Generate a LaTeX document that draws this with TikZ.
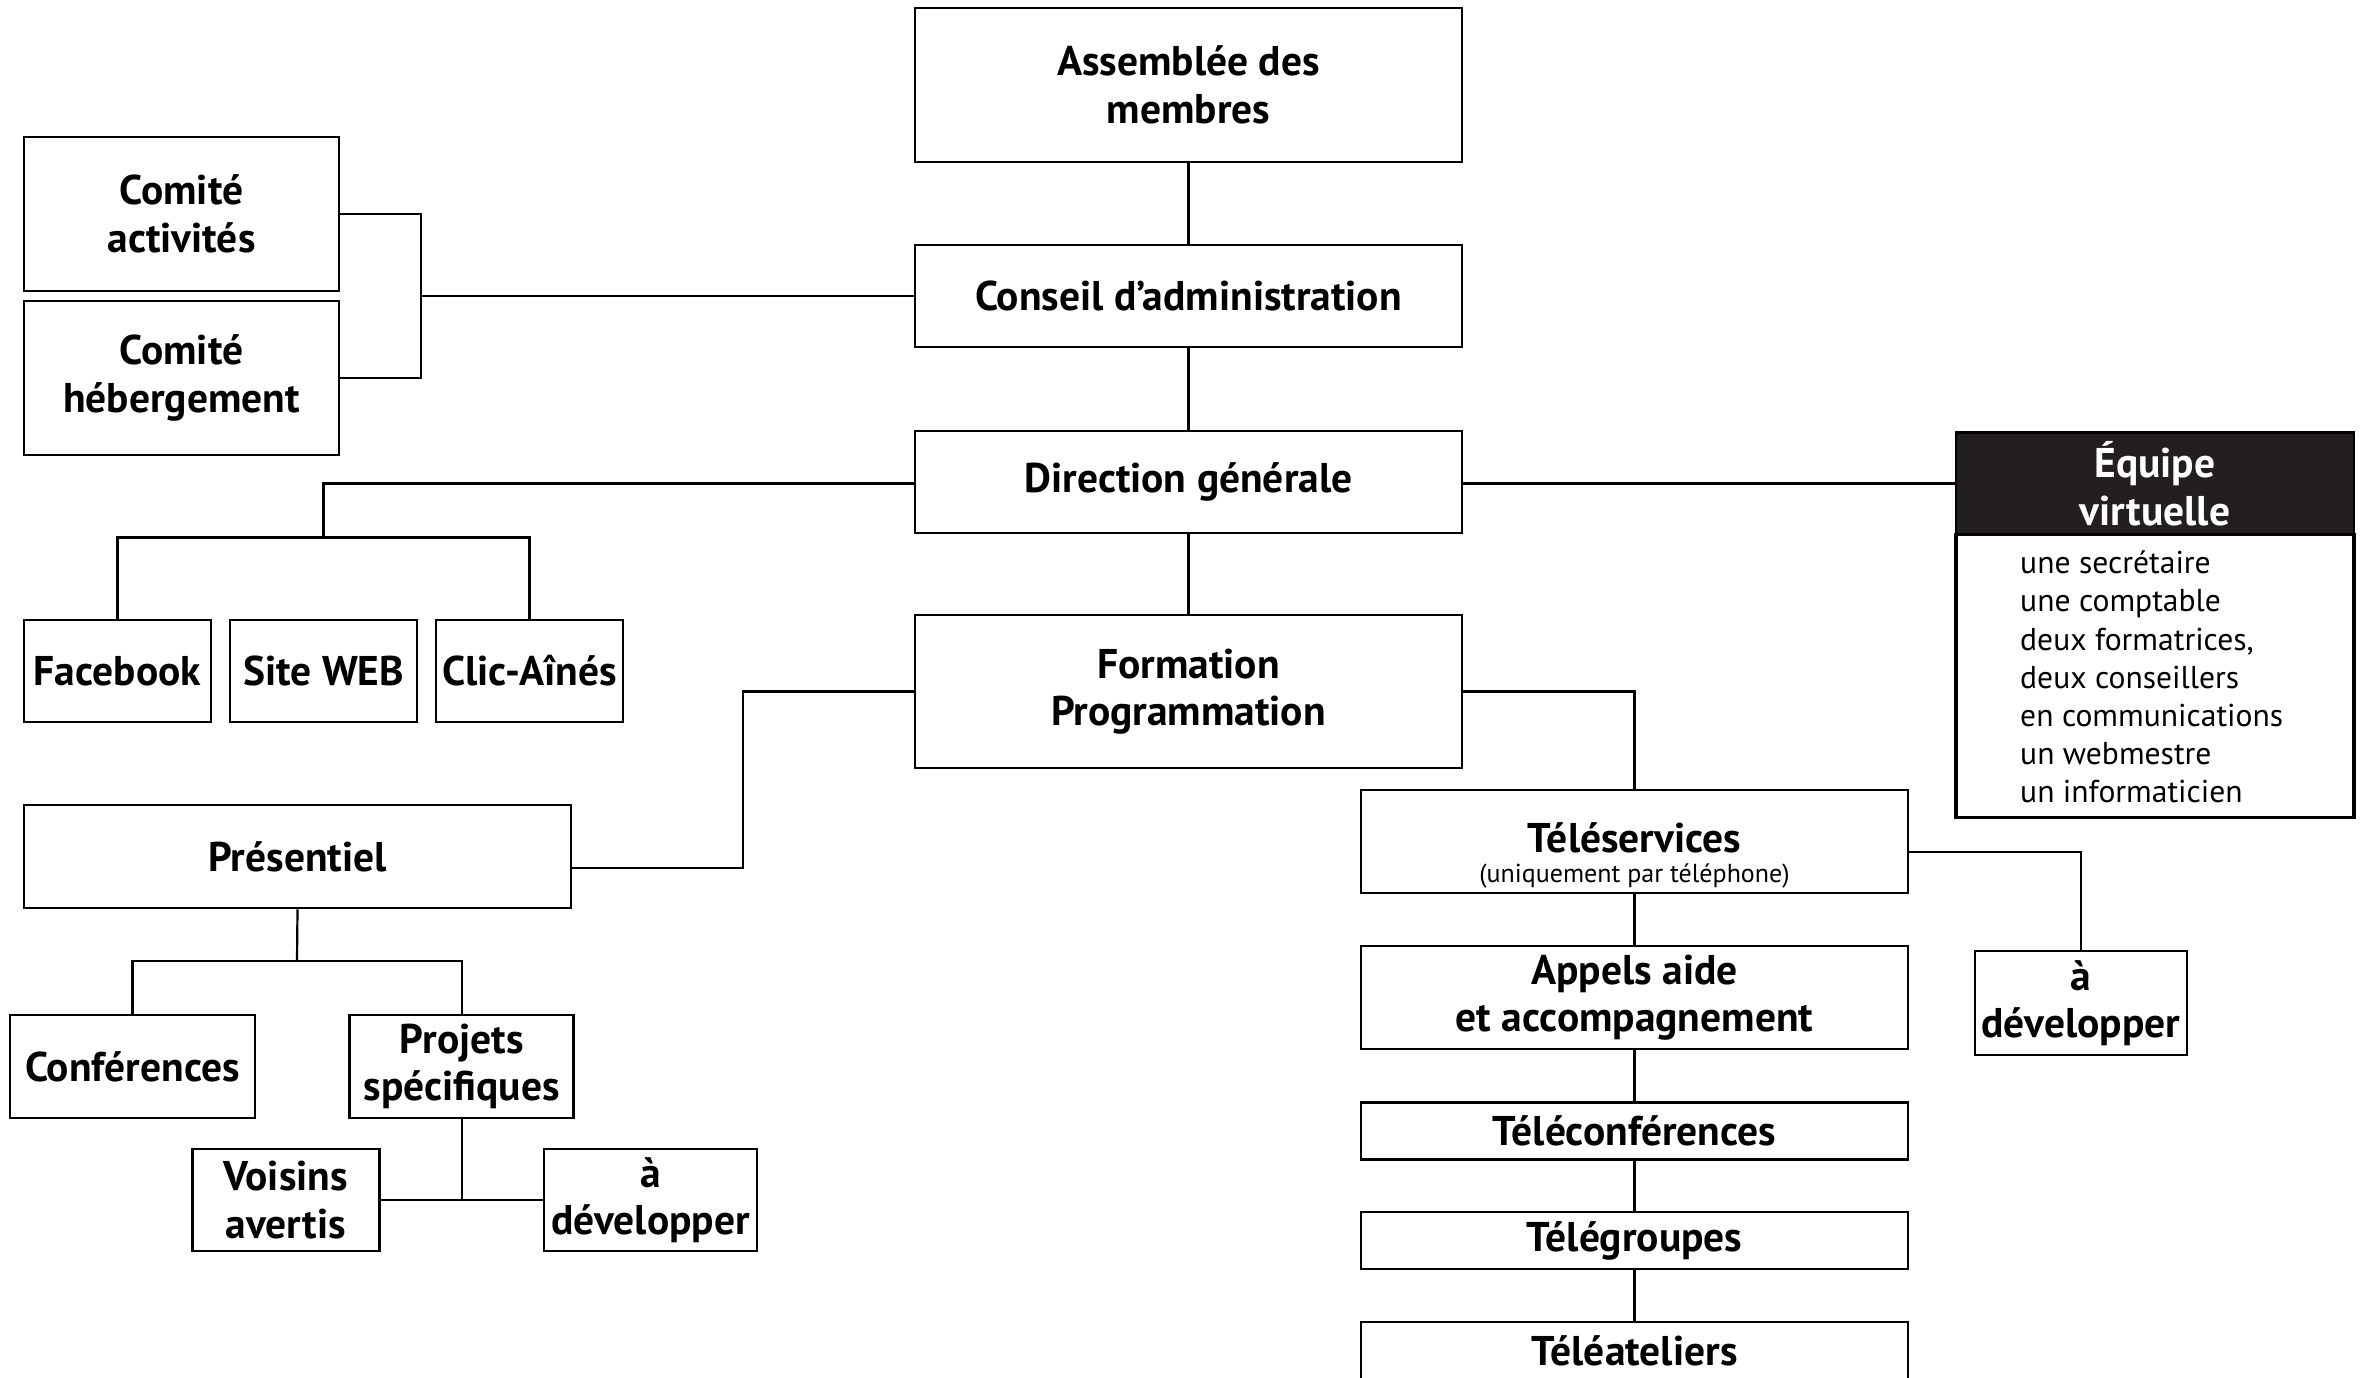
\documentclass[tikz,border=0pt]{standalone}
\usepackage{fontspec}
\setmainfont{PT Sans}
\definecolor{hdr}{HTML}{231F20}
\begin{document}
\begin{tikzpicture}[x=1pt,y=-1pt,
 box/.style={draw, line width=2.6pt, inner sep=0pt, align=center, font=\bfseries\fontsize{41.5}{47.5}\selectfont},
 conn/.style={line width=2.2pt},
 lst/.style={inner sep=0pt, align=left, font=\fontsize{31.6}{38.2}\selectfont},
]
\useasboundingbox (0,0) rectangle (2363,1377);
% central column
\node[box, minimum width=547pt, minimum height=154pt] (asm) at (1188.5,85) {Assemblée des\\membres};
\node[box, minimum width=547pt, minimum height=102pt] (ca) at (1188.5,296) {Conseil d’administration};
\node[box, minimum width=547pt, minimum height=102pt] (dg) at (1188.5,482) {Direction générale};
\node[box, minimum width=547pt, minimum height=153pt] (fp) at (1188.5,691.5) {Formation\\Programmation};
% committees
\node[box, minimum width=315pt, minimum height=154pt] (cact) at (181.5,214) {Comité\\activités};
\node[box, minimum width=315pt, minimum height=154pt] (cheb) at (181.5,378) {Comité\\hébergement};
% web
\node[box, minimum width=187pt, minimum height=102pt] (fb) at (117.5,671) {Facebook};
\node[box, minimum width=187pt, minimum height=102pt] (web) at (323.5,671) {Site WEB};
\node[box, minimum width=187pt, minimum height=102pt] (clic) at (529.5,671) {Clic-Aînés};
% presentiel
\node[box, minimum width=547pt, minimum height=103pt] (pres) at (297.5,856.5) {Présentiel};
\node[box, minimum width=245pt, minimum height=103pt] (conf) at (132.5,1066.5) {Conférences};
\node[box, minimum width=224pt, minimum height=103pt] (proj) at (461.7,1066.5) {Projets\\spécifiques};
\node[box, minimum width=187pt, minimum height=102pt] (vois) at (285.7,1200) {Voisins\\avertis};
\node[box, minimum width=213pt, minimum height=102pt] (adev1) at (650.5,1200) {à\\développer};
% teleservices
\node[box, minimum width=547pt, minimum height=103pt] (tele) at (1634.5,841.5) {};
\node[font=\bfseries\fontsize{41.5}{44}\selectfont, inner sep=0pt] (teleT) at (1634.5,838) {Téléservices};
\node[font=\fontsize{26}{28}\selectfont, inner sep=0pt] (teleS) at (1634.5,876) {(uniquement par téléphone)};
\node[box, minimum width=547pt, minimum height=103pt] (app) at (1634.5,997.5) {Appels aide\\et accompagnement};
\node[box, minimum width=547pt, minimum height=57pt] (tconf) at (1634.5,1130.7) {Téléconférences};
\node[box, minimum width=547pt, minimum height=57pt] (tgrp) at (1634.5,1240.5) {Télégroupes};
\node[box, minimum width=547pt, minimum height=57pt] (tate) at (1634.5,1350.5) {Téléateliers};
\node[box, minimum width=212pt, minimum height=104pt] (adev2) at (2080.8,1003) {à\\développer};
% equipe virtuelle
\node[draw, line width=3.4pt, minimum width=398pt, minimum height=283pt, inner sep=0pt] (eqb) at (2155,676) {};
\node[box, fill=hdr, text=white, minimum width=398pt, minimum height=102pt] (eqh) at (2155,483.5) {Équipe\\virtuelle};
\node[lst, anchor=west] (eql) at (2020,677) {une secrétaire\\une comptable\\deux formatrices,\\deux conseillers\\en communications\\un webmestre\\un informaticien};
% connectors
\coordinate (br) at (421,296);
\coordinate (dgL) at (323.5,537.5);
\coordinate (fpL) at (743,868);
\coordinate (presB) at (297,961);
\coordinate (projB) at (461.7,1200);
\draw[conn] (asm) -- (ca);
\draw[conn] (ca) -- (dg);
\draw[conn] (dg) -- (fp);
\draw[conn] (ca.west) -- (br);
\draw[conn] (cact.east) -| (br) |- (cheb.east);
\draw[conn] ([yshift=-1.5pt]dg.west) -| (dgL);
\draw[conn] (fb.north) |- (dgL) -| (clic.north);
\draw[conn] ([yshift=-1.5pt]dg.east) -- (eqh.west);
\draw[conn] (fp.west) -| (fpL) -- ([yshift=-11.5pt]pres.east);
\draw[conn] (fp.east) -| (tele.north);
\draw[conn] (pres.south) -- (presB);
\draw[conn] (conf.north) |- (presB) -| (proj.north);
\draw[conn] (proj.south) -- (projB);
\draw[conn] (vois.east) -- (adev1.west);
\draw[conn] (tele) -- (app);
\draw[conn] (app) -- (tconf);
\draw[conn] (tconf) -- (tgrp);
\draw[conn] (tgrp) -- (tate);
\draw[conn] ([yshift=-10.5pt]tele.east) -| (adev2.north);
\end{tikzpicture}
\end{document}
